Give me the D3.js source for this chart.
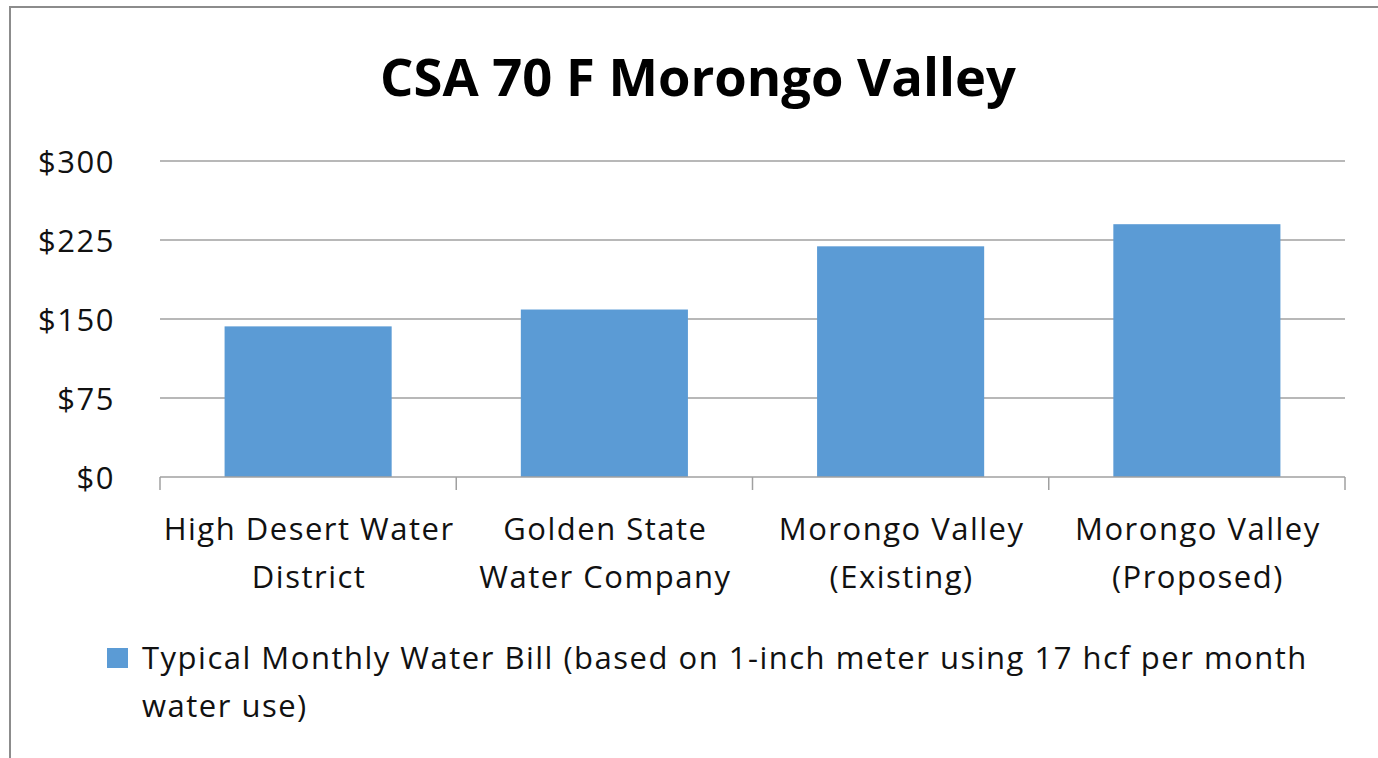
<!DOCTYPE html>
<html>
<head>
<meta charset="utf-8">
<script src="https://cdn.jsdelivr.net/npm/d3@7"></script>
<style>
  body { margin: 0; background: #fff; }
  text { font-family: "Open Sans", Lato, sans-serif; fill: #111; }
</style>
</head>
<body>
<div id="chart"></div>
<script>
const barColor = "#5B9BD5";

const categories = [
    ["High Desert Water", "District"],
    ["Golden State", "Water Company"],
    ["Morongo Valley", "(Existing)"],
    ["Morongo Valley", "(Proposed)"]
];
const bills = [143, 159, 219, 240];
const yTicks = [0, 75, 150, 225, 300];
const chartTitle = "CSA 70 F Morongo Valley";
const legendLines = [
    "Typical Monthly Water Bill (based on 1-inch meter using 17 hcf per month",
    "water use)"
];

const totalWidth = 1378, totalHeight = 758;
const margins = { left: 160, right: 33, top: 161, bottom: 281 };
const width = totalWidth - margins.left - margins.right;
const height = totalHeight - margins.top - margins.bottom;

const root = d3.select("#chart").append("svg")
    .attr("width", totalWidth)
    .attr("height", totalHeight);

// chart area frame (only top and left edges are in view)
root.append("path")
    .attr("d", `M10,${totalHeight} V7 H${totalWidth}`)
    .attr("fill", "none")
    .attr("stroke", "#8c8c8c")
    .attr("stroke-width", 2);

root.append("text")
    .attr("x", 698)
    .attr("y", 96)
    .attr("text-anchor", "middle")
    .attr("font-size", "52.5px")
    .attr("font-weight", "bold")
    .style("fill", "#000")
    .text(chartTitle);

const svg = root.append("g").attr("transform", `translate(${margins.left},${margins.top})`);

const idx = categories.map((d, i) => i);
const x = d3.scaleBand().domain(idx).range([0, width]).paddingInner(0.436).paddingOuter(0.218);
const y = d3.scaleLinear().domain([0, 300]).range([height, 0]);

// gridlines
svg.append("g")
    .selectAll("line")
    .data(yTicks.filter(t => t > 0))
    .join("line")
    .attr("x1", 0).attr("x2", width)
    .attr("y1", d => y(d)).attr("y2", d => y(d))
    .attr("stroke", "#a0a0a0")
    .attr("stroke-width", 1.5);

// Y axis labels
const yAxis = d3.axisLeft(y).tickValues(yTicks).tickFormat(d => "$" + d).tickSize(0).tickPadding(45);
const yAxisG = svg.append("g").call(yAxis);
yAxisG.select(".domain").remove();
yAxisG.selectAll("text")
    .attr("font-size", "31px")
    .attr("letter-spacing", "1.5px")
    .attr("font-family", null)
    .attr("fill", null)
    .attr("dy", "0.36em");

// bars
svg.append("g")
    .selectAll("rect")
    .data(bills)
    .join("rect")
    .attr("x", (d, i) => x(i))
    .attr("y", d => y(d))
    .attr("width", x.bandwidth())
    .attr("height", d => y(0) - y(d))
    .attr("fill", barColor);

// X axis line with tick marks at category boundaries
const step = x.step();
const xAxisG = svg.append("g").attr("transform", `translate(0,${height})`);
xAxisG.append("line")
    .attr("x1", 0).attr("x2", width)
    .attr("stroke", "#a0a0a0").attr("stroke-width", 1.5);
xAxisG.selectAll(".tick")
    .data(d3.range(categories.length + 1))
    .join("line")
    .attr("class", "tick")
    .attr("x1", d => d * step).attr("x2", d => d * step)
    .attr("y1", 0).attr("y2", 13)
    .attr("stroke", "#a0a0a0").attr("stroke-width", 1.5);

// category labels (two lines each)
const labels = xAxisG.selectAll(".cat")
    .data(categories)
    .join("text")
    .attr("class", "cat")
    .attr("text-anchor", "middle")
    .attr("font-size", "31px")
    .attr("letter-spacing", "1.5px")
    .attr("transform", (d, i) => `translate(${x(i) + x.bandwidth() / 2 + 1},0)`);
labels.selectAll("tspan")
    .data(d => d)
    .join("tspan")
    .attr("x", 0)
    .attr("y", (d, i) => 63 + i * 48)
    .text(d => d);

// legend
const legend = root.append("g");
legend.append("rect")
    .attr("x", 107).attr("y", 648)
    .attr("width", 21).attr("height", 20)
    .attr("fill", barColor);
legend.selectAll("text")
    .data(legendLines)
    .join("text")
    .attr("x", 142)
    .attr("y", (d, i) => 669 + i * 48)
    .attr("font-size", "31px")
    .attr("letter-spacing", "1.5px")
    .text(d => d);
</script>
</body>
</html>
